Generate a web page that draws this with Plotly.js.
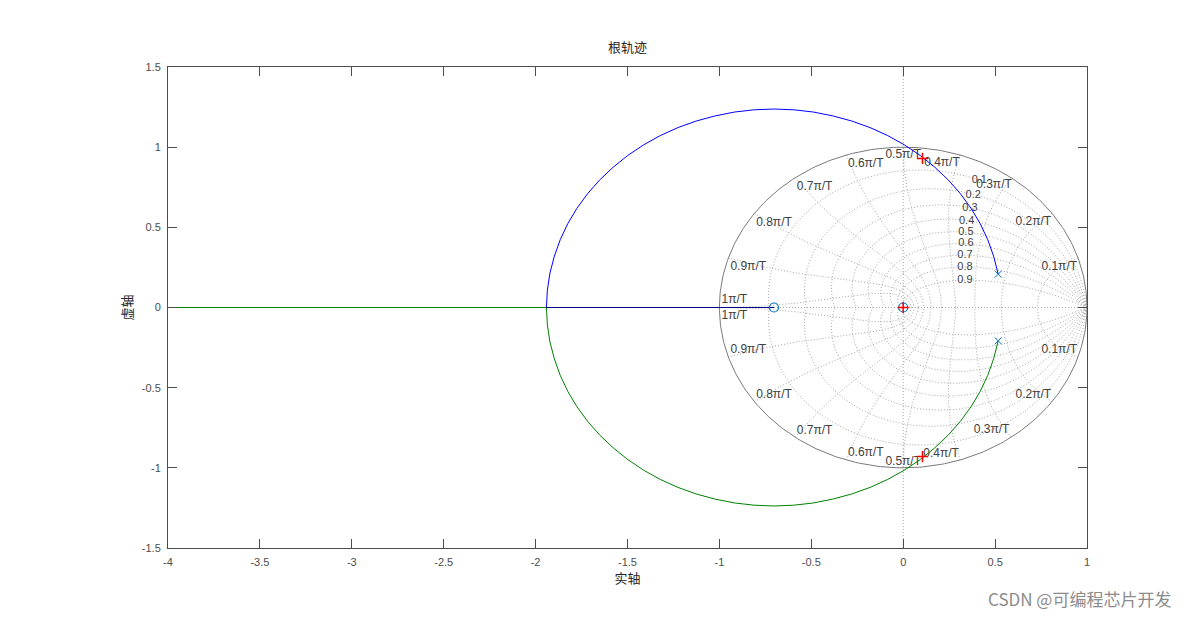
<!DOCTYPE html>
<html><head><meta charset="utf-8">
<script src="https://cdn.plot.ly/plotly-3.0.1.min.js"></script>
<style>html,body{margin:0;padding:0;background:#fff}</style>
</head><body><div id="chart" style="width:1202px;height:617px"></div>
<script>
// ---- tick labels ----
const xTickVals = [-4, -3.5, -3, -2.5, -2, -1.5, -1, -0.5, 0, 0.5, 1];
const xTickText = ['-4', '-3.5', '-3', '-2.5', '-2', '-1.5', '-1', '-0.5', '0', '0.5', '1'];
const yTickVals = [-1.5, -1, -0.5, 0, 0.5, 1, 1.5];
const yTickText = ['-1.5', '-1', '-0.5', '0', '0.5', '1', '1.5'];

// ---- open-loop poles / zeros ----
const poleRe = [0.517, 0.517];
const poleIm = [0.208, -0.208];
const zeroRe = [-0.703, 0];
const zeroIm = [0, 0];
// selected closed-loop points (red +)
const selRe = [0.105, 0.105, 0];
const selIm = [0.930, -0.930, 0];

// ---- root locus branches ----
const branch1Re = [0.517, 0.492, 0.460, 0.419, 0.369, 0.311, 0.245, 0.172, 0.093, 0.007, -0.084, -0.180, -0.280, -0.383, -0.488, -0.595, -0.703, -0.811, -0.918, -1.023, -1.126, -1.226, -1.322, -1.413, -1.499, -1.578, -1.651, -1.717, -1.775, -1.825, -1.866, -1.898, -1.922, -1.936, -1.941];
const branch1Im = [0.208, 0.320, 0.423, 0.523, 0.619, 0.710, 0.796, 0.875, 0.948, 1.014, 1.072, 1.122, 1.163, 1.195, 1.219, 1.233, 1.238, 1.233, 1.219, 1.195, 1.163, 1.122, 1.072, 1.014, 0.948, 0.875, 0.796, 0.710, 0.619, 0.523, 0.423, 0.320, 0.215, 0.108, 0];
const branch1AxisRe = [-1.941, -0.703];
const branch1AxisIm = [0, 0];
const branch2Re = [0.517, 0.492, 0.460, 0.419, 0.369, 0.311, 0.245, 0.172, 0.093, 0.007, -0.084, -0.180, -0.280, -0.383, -0.488, -0.595, -0.703, -0.811, -0.918, -1.023, -1.126, -1.226, -1.322, -1.413, -1.499, -1.578, -1.651, -1.717, -1.775, -1.825, -1.866, -1.898, -1.922, -1.936, -1.941, -4];
const branch2Im = [-0.208, -0.320, -0.423, -0.523, -0.619, -0.710, -0.796, -0.875, -0.948, -1.014, -1.072, -1.122, -1.163, -1.195, -1.219, -1.233, -1.238, -1.233, -1.219, -1.195, -1.163, -1.122, -1.072, -1.014, -0.948, -0.875, -0.796, -0.710, -0.619, -0.523, -0.423, -0.320, -0.215, -0.108, 0, 0];

// ---- zgrid definition ----
const zetaValues = [0.1, 0.2, 0.3, 0.4, 0.5, 0.6, 0.7, 0.8, 0.9];
const zetaLabels = ['0.1', '0.2', '0.3', '0.4', '0.5', '0.6', '0.7', '0.8', '0.9'];
const zetaLabelX = [0.414, 0.381, 0.363, 0.345, 0.341, 0.341, 0.336, 0.336, 0.336];
const zetaLabelY = [0.795, 0.701, 0.619, 0.535, 0.467, 0.400, 0.323, 0.248, 0.167];
const wnValues = [0.1, 0.2, 0.3, 0.4, 0.5, 0.6, 0.7, 0.8, 0.9, 1.0]; // x pi/T
const wnLabels = ['0.1π/T', '0.2π/T', '0.3π/T', '0.4π/T', '0.5π/T', '0.6π/T', '0.7π/T', '0.8π/T', '0.9π/T', '1π/T'];
const wnLabelXUp = [0.849, 0.708, 0.494, 0.211, 0.000, -0.204, -0.482, -0.703, -0.843, -0.919];
const wnLabelYUp = [0.250, 0.535, 0.764, 0.899, 0.951, 0.895, 0.750, 0.529, 0.250, 0.046];
const wnLabelXDn = [0.849, 0.708, 0.481, 0.206, 0.000, -0.204, -0.482, -0.703, -0.843, -0.919];
const wnLabelYDn = [-0.265, -0.546, -0.765, -0.914, -0.962, -0.910, -0.769, -0.546, -0.265, -0.051];

// ---- build grid curves ----
const N = 120;
const gx = [], gy = [];
zetaValues.forEach(z => {
  const m = z / Math.sqrt(1 - z * z);
  [1, -1].forEach(sg => {
    for (let k = 0; k <= N; k++) {
      const th = Math.PI * k / N;
      const r = Math.exp(-m * th);
      gx.push(r * Math.cos(th)); gy.push(sg * r * Math.sin(th));
    }
    gx.push(null); gy.push(null);
  });
});
wnValues.forEach(w => {
  const wn = w * Math.PI;
  [1, -1].forEach(sg => {
    for (let k = 0; k <= N; k++) {
      const psi = Math.PI / 2 + (Math.PI / 2) * k / N;
      const a = wn * Math.cos(psi), b = wn * Math.sin(psi);
      const r = Math.exp(a);
      gx.push(r * Math.cos(b)); gy.push(sg * r * Math.sin(b));
    }
    gx.push(null); gy.push(null);
  });
});
const cx = [], cy = [];
for (let k = 0; k <= 360; k++) { const t = 2 * Math.PI * k / 360; cx.push(Math.cos(t)); cy.push(Math.sin(t)); }

const gridColor = '#a6a6a6';
const txtFont = {family: 'Liberation Sans, Arial, sans-serif', size: 12, color: '#404040'};
const zetaFont = {family: 'Liberation Sans, Arial, sans-serif', size: 11, color: '#404040'};

const traces = [
  {x: gx, y: gy, mode: 'lines', line: {color: gridColor, width: 1, dash: '1px,2px'}, hoverinfo: 'skip', connectgaps: false},
  {x: cx, y: cy, mode: 'lines', line: {color: '#7a7a7a', width: 1}, hoverinfo: 'skip'},
  {x: zetaLabelX, y: zetaLabelY, mode: 'text', text: zetaLabels, textfont: zetaFont, hoverinfo: 'skip'},
  {x: wnLabelXUp, y: wnLabelYUp, mode: 'text', text: wnLabels, textfont: txtFont, hoverinfo: 'skip'},
  {x: wnLabelXDn, y: wnLabelYDn, mode: 'text', text: wnLabels, textfont: txtFont, hoverinfo: 'skip'},
  {x: branch2Re, y: branch2Im, mode: 'lines', line: {color: '#008000', width: 1}},
  {x: branch1Re, y: branch1Im, mode: 'lines', line: {color: '#0000ff', width: 1}},
  {x: branch1AxisRe, y: branch1AxisIm, mode: 'lines', line: {color: '#00008b', width: 1}},
  {x: poleRe, y: poleIm, mode: 'markers', marker: {symbol: 'x-thin-open', size: 7, color: '#0072bd', line: {color: '#0072bd', width: 1}}},
  {x: zeroRe, y: zeroIm, mode: 'markers', marker: {symbol: 'circle-open', size: 9, color: '#0072bd', line: {color: '#0072bd', width: 1.2}}},
  {x: selRe, y: selIm, mode: 'markers', marker: {symbol: 'cross-thin-open', size: 8, color: '#ff0000', line: {color: '#ff0000', width: 1.5}}}
];

const axFont = {family: 'Liberation Sans, Arial, sans-serif', size: 11, color: '#4d4d4d'};
const cjk = 'Noto Sans CJK SC, sans-serif';

const layout = {
  width: 1202, height: 617,
  margin: {l: 168, r: 115, t: 67, b: 69},
  paper_bgcolor: '#ffffff', plot_bgcolor: '#ffffff',
  showlegend: false,
  title: {text: '根轨迹', font: {family: cjk, size: 13, color: '#262626'}, x: 0.5, xref: 'paper', y: 1 - 47 / 617, yref: 'container', yanchor: 'middle'},
  xaxis: {
    range: [-4, 1], tickvals: xTickVals, ticktext: xTickText,
    showgrid: false, zeroline: false, showline: true, mirror: 'ticks',
    linecolor: '#4d4d4d', linewidth: 1, ticks: 'inside', ticklen: 9, tickcolor: '#4d4d4d',
    tickfont: axFont, ticklabelstandoff: 4,
    title: {text: '实轴', font: {family: cjk, size: 13, color: '#262626'}, standoff: 2}
  },
  yaxis: {
    range: [-1.5, 1.5], tickvals: yTickVals, ticktext: yTickText,
    showgrid: false, zeroline: false, showline: true, mirror: 'ticks',
    linecolor: '#4d4d4d', linewidth: 1, ticks: 'inside', ticklen: 9, tickcolor: '#4d4d4d',
    tickfont: axFont, ticklabelstandoff: 4,
    title: {text: '虚轴', font: {family: cjk, size: 13, color: '#262626'}, standoff: 6}
  },
  shapes: [
    {type: 'line', xref: 'x', yref: 'paper', x0: 0, x1: 0, y0: 0, y1: 1, layer: 'below', line: {color: gridColor, width: 1, dash: '1px,2px'}},
    {type: 'line', xref: 'paper', yref: 'y', x0: 0, x1: 1, y0: 0, y1: 0, layer: 'below', line: {color: gridColor, width: 1, dash: '1px,2px'}}
  ],
  annotations: [
    {text: 'CSDN @可编程芯片开发', xref: 'paper', yref: 'paper', x: 0.992, y: -0.104, xanchor: 'center', yanchor: 'middle', showarrow: false, font: {family: cjk, size: 17, color: '#8c8c8c'}}
  ]
};

Plotly.newPlot('chart', traces, layout, {staticPlot: true, displayModeBar: false});
</script>
</body></html>
